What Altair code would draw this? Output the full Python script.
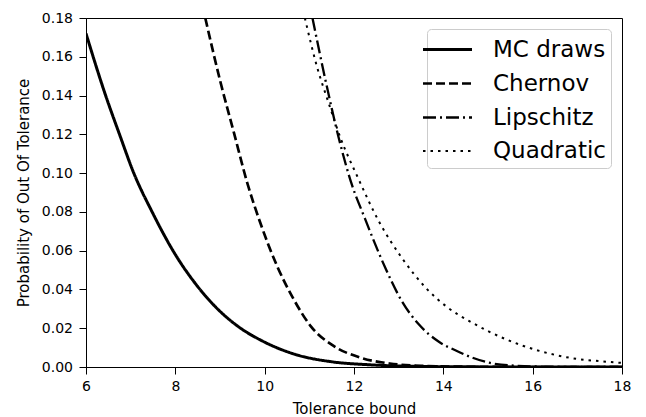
import altair as alt
import pandas as pd

# Values
mc_x = [6.0, 6.44, 6.75, 7.07, 7.48, 8.0, 8.45, 8.9, 9.4, 9.95, 10.67, 11.5, 12.3, 13.2, 14.5, 16.0, 18.0]
mc_y = [0.172, 0.14, 0.12, 0.10, 0.08, 0.058, 0.043, 0.031, 0.021, 0.0134, 0.0066, 0.0027, 0.0012, 0.0004, 0.0001, 0.0, 0.0]

chernov_x = [8.67, 9.01, 9.31, 9.61, 9.9, 10.28, 10.65, 11.03, 11.55, 12.15, 12.8, 13.5, 14.5, 16.0, 18.0]
chernov_y = [0.18, 0.147, 0.121, 0.095, 0.0745, 0.052, 0.0349, 0.0211, 0.0108, 0.0048, 0.0018, 0.0006, 0.00015, 0.0, 0.0]

lipschitz_x = [11.07, 11.37, 11.66, 11.96, 12.22, 12.7, 13.07, 13.45, 13.9, 14.28, 14.65, 15.03, 15.5, 16.5, 18.0]
lipschitz_y = [0.18, 0.147, 0.118, 0.0935, 0.078, 0.0512, 0.034, 0.022, 0.013, 0.0085, 0.0048, 0.0022, 0.0008, 0.0001, 0.0]

quadratic_x = [10.9, 11.17, 11.42, 11.7, 12.07, 12.56, 13.08, 13.6, 14.08, 14.65, 15.4, 16.15, 16.9, 17.5, 18.0]
quadratic_y = [0.18, 0.155, 0.137, 0.118, 0.0985, 0.075, 0.056, 0.041, 0.031, 0.0228, 0.0143, 0.0083, 0.0045, 0.003, 0.0021]

series_names = ["MC draws", "Chernov", "Lipschitz", "Quadratic"]
x_ticks = [6, 8, 10, 12, 14, 16, 18]
y_ticks = [0.0, 0.02, 0.04, 0.06, 0.08, 0.10, 0.12, 0.14, 0.16, 0.18]

rows = []
for name, xs, ys in zip(series_names,
                        [mc_x, chernov_x, lipschitz_x, quadratic_x],
                        [mc_y, chernov_y, lipschitz_y, quadratic_y]):
    for xv, yv in zip(xs, ys):
        rows.append({"x": xv, "y": yv, "series": name})
df = pd.DataFrame(rows)

FONT = "DejaVu Sans"

chart = (
    alt.Chart(df)
    .mark_line(color="black", clip=True, interpolate="monotone")
    .encode(
        x=alt.X("x:Q", title="Tolerance bound",
                scale=alt.Scale(domain=[6, 18], nice=False, zero=False),
                axis=alt.Axis(values=x_ticks, format="d", labelFlush=False)),
        y=alt.Y("y:Q", title="Probability of Out Of Tolerance",
                scale=alt.Scale(domain=[0, 0.18], nice=False),
                axis=alt.Axis(values=y_ticks, format=".2f", labelFlush=False,
                              labelOverlap=False, labelPadding=6.5, titlePadding=10)),
        strokeDash=alt.StrokeDash(
            "series:N",
            sort=series_names,
            scale=alt.Scale(domain=series_names,
                            range=[[1, 0], [9, 4], [13, 4, 2, 4], [2.5, 5]]),
            legend=alt.Legend(
                title=None,
                orient="top-right",
                offset=11,
                symbolType="M-1.75,0H1.75",
                symbolSize=784,
                symbolStrokeWidth=2,
                symbolStrokeColor="black",
                symbolFillColor="transparent",
                labelFontSize=23,
                labelFont=FONT,
                labelColor="black",
                labelOffset=30,
                rowPadding=6,
                padding=5,
                strokeColor="#cccccc",
                fillColor="white",
                cornerRadius=4,
            ),
        ),
        strokeWidth=alt.StrokeWidth(
            "series:N",
            scale=alt.Scale(domain=series_names, range=[3, 2, 2, 2]),
            legend=None,
        ),
        detail="series:N",
    )
    .properties(width=536, height=349,
                padding={"left": 8, "top": 3, "right": 5, "bottom": 0})
    .configure_view(stroke="black", strokeWidth=1)
    .configure_axis(
        grid=False,
        domainColor="black",
        domainWidth=1,
        tickColor="black",
        tickSize=7,
        tickWidth=1,
        labelFont=FONT,
        labelFontSize=14,
        labelColor="black",
        labelPadding=5,
        titleFont=FONT,
        titleFontSize=15,
        titleFontWeight="normal",
        titleColor="black",
        titlePadding=8,
    )
)

chart.save("out.html", embed_options={"renderer": "svg", "actions": False})
